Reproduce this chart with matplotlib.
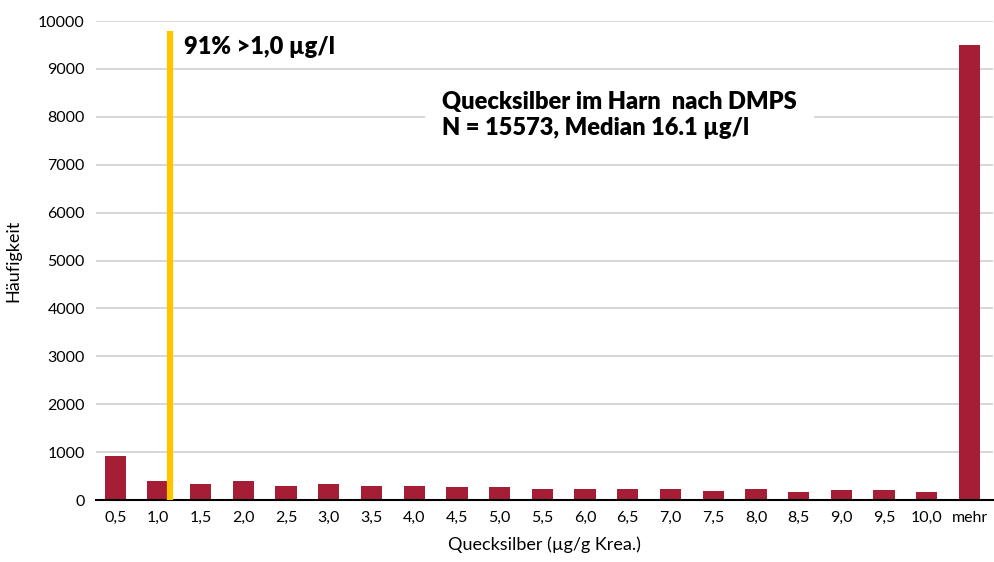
import matplotlib
matplotlib.use("Agg")
import matplotlib.pyplot as plt

# Kategorien und Häufigkeiten
categories = ["0,5", "1,0", "1,5", "2,0", "2,5", "3,0", "3,5", "4,0", "4,5", "5,0",
              "5,5", "6,0", "6,5", "7,0", "7,5", "8,0", "8,5", "9,0", "9,5", "10,0", "mehr"]
counts = [920, 400, 335, 400, 292, 335, 290, 290, 272, 272,
          230, 230, 230, 230, 188, 230, 167, 210, 210, 167, 9500]
yticks = [0, 1000, 2000, 3000, 4000, 5000, 6000, 7000, 8000, 9000, 10000]
marker_pos = 1.28
marker_top = 9800

bar_color = "#A51E36"
line_color = "#FFC600"
font = "Lato"

fig = plt.figure(figsize=(9.95, 5.62), dpi=100)
ax = fig.add_axes([0.0965, 0.1103, 0.9015, 0.8523])

x = list(range(len(categories)))
ax.bar(x, counts, width=0.5, color=bar_color, zorder=3)
ax.set_xlim(-0.45, len(categories) - 0.45)
ax.set_ylim(0, 10000)
ax.set_yticks(yticks)
ax.set_yticklabels([str(v) for v in yticks], fontsize=11.5, family=font)
ax.set_xticks(x)
ax.set_xticklabels(categories, fontsize=11.5, family=font)
ax.tick_params(axis="both", length=0, pad=8)
ax.grid(axis="y", color="#d0d0d0", linewidth=1.2, zorder=0)
for s in ["top", "right", "left"]:
    ax.spines[s].set_visible(False)
ax.spines["bottom"].set_linewidth(1.5)
ax.spines["bottom"].set_zorder(4)

# gelbe Markierung bei 1,0
ax.plot([marker_pos, marker_pos], [0, marker_top], color=line_color, linewidth=4.5, zorder=5,
        solid_capstyle="butt")
ax.text(marker_pos + 0.32, 9450, "91% >1,0 µg/l", fontsize=17, fontweight="heavy",
        family=font, va="center", ha="left")
ax.text(7.65, 8040, "Quecksilber im Harn  nach DMPS\nN = 15573, Median 16.1 µg/l",
        fontsize=17, fontweight="heavy", family=font, va="center", ha="left",
        linespacing=1.2, zorder=6,
        bbox=dict(facecolor="white", edgecolor="none", pad=12))

ax.set_ylabel("Häufigkeit", fontsize=13, family=font, labelpad=12)
ax.set_xlabel("Quecksilber (µg/g Krea.)", fontsize=13, family=font, labelpad=8)

fig.savefig("out.png", dpi=100)
